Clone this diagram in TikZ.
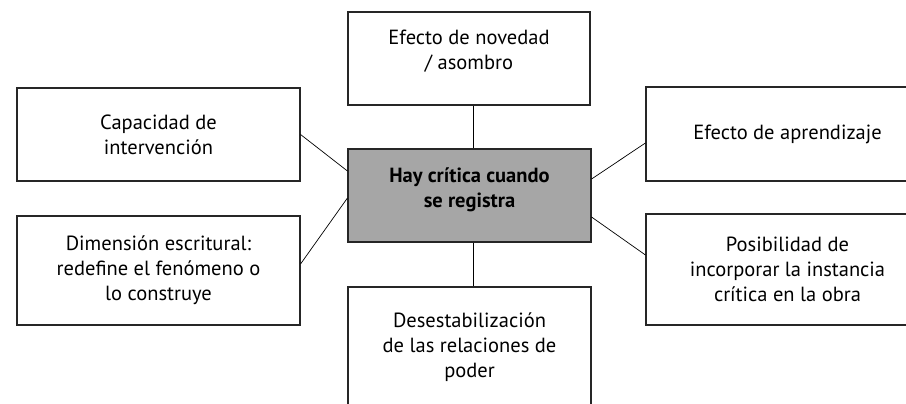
\documentclass[tikz,border=0pt]{standalone}
\usepackage{fontspec}
\setmainfont{PT Sans}
\definecolor{gris}{HTML}{A6A6A6}

\begin{document}
\begin{tikzpicture}[x=1pt, y=-1pt,
  caja/.style={draw=black!85, line width=1.1pt, fill=white, align=center,
    inner sep=0pt, font=\fontsize{20.5}{25}\selectfont},
  centro/.style={caja, fill=gris, font=\fontsize{20.5}{25}\selectfont\bfseries},
  enlace/.style={draw=black, line width=0.7pt}]
\useasboundingbox (0,0) rectangle (906,404);
\clip (0,0) rectangle (906,404);

\coordinate (A) at (469.5,195.5); % centro
\coordinate (B) at (469,58.5); % arriba
\coordinate (C) at (158.5,134.5); % izq. arriba
\coordinate (D) at (158.5,270.5); % izq. abajo
\coordinate (E) at (787.5,134); % der. arriba
\coordinate (F) at (787.5,269.5); % der. abajo
\coordinate (G) at (469.5,347); % abajo

\node[centro, minimum width=243pt, minimum height=93pt, text depth=16pt] (reg) at (A)
     {Hay crítica cuando\\se registra};
\node[caja, minimum width=242pt, minimum height=93pt, text depth=18pt] (nov) at (B)
     {Efecto de novedad\\/ asombro};
\node[caja, minimum width=283pt, minimum height=93pt] (cap) at (C)
     {Capacidad de\\intervención};
\node[caja, minimum width=283pt, minimum height=109pt] (dim) at (D)
     {Dimensión escritural:\\redefine el fenómeno o\\lo construye};
\node[caja, minimum width=283pt, minimum height=94pt] (apr) at (E)
     {Efecto de aprendizaje};
\node[caja, minimum width=283pt, minimum height=111pt] (pos) at (F)
     {Posibilidad de\\incorporar la instancia\\crítica en la obra};
\node[caja, minimum width=243pt, minimum height=120pt] (des) at (G)
     {Desestabilización\\de las relaciones de\\poder};

\draw[enlace] ([xshift=4pt]nov.south) -- ([xshift=3.5pt]reg.north);
\draw[enlace] ([xshift=3.5pt]reg.south) -- ([xshift=3.5pt]des.north);
\draw[enlace] (cap.east) -- ([yshift=24.5pt]reg.west);
\draw[enlace] ([yshift=6.5pt]dim.east) -- ([yshift=-2.5pt]reg.west);
\draw[enlace] ([yshift=16.5pt]reg.east) -- ([yshift=-9pt]apr.west);
\draw[enlace] ([yshift=-21.5pt]reg.east) -- ([yshift=14.5pt]pos.west);
\end{tikzpicture}
\end{document}
